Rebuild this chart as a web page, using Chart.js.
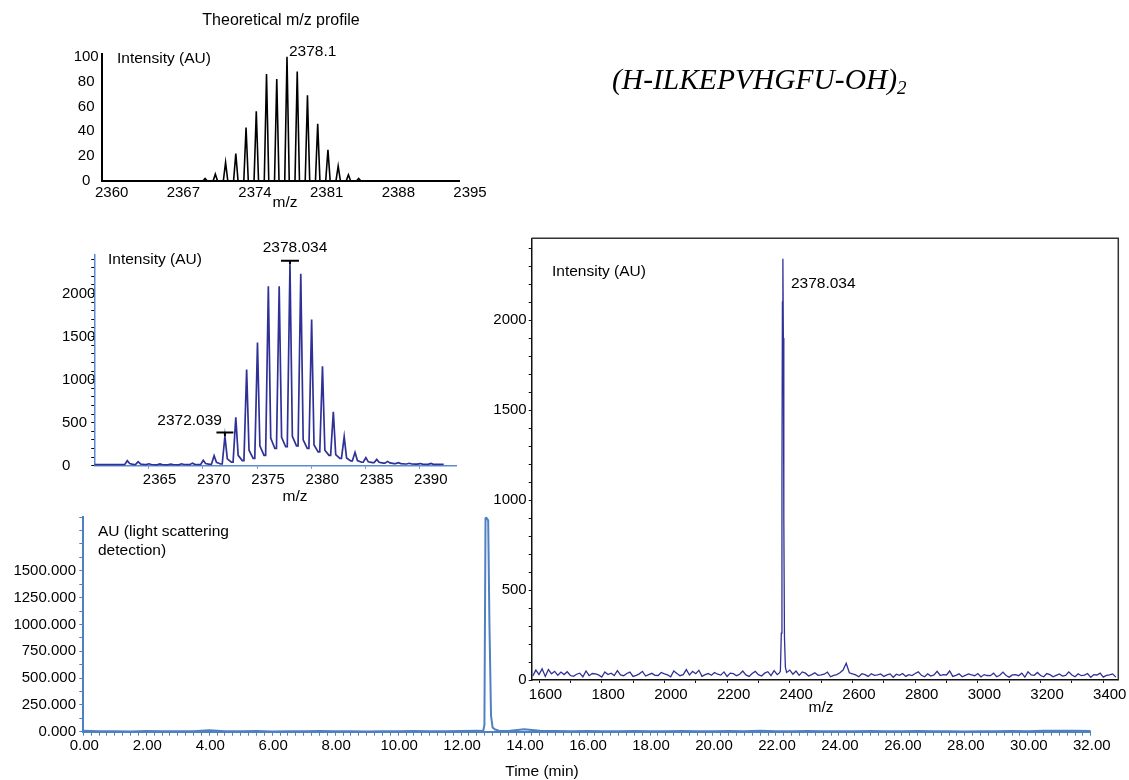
<!DOCTYPE html>
<html>
<head>
<meta charset="utf-8">
<title>(H-ILKEPVHGFU-OH)2 - m/z profiles and LC trace</title>
<script src="https://cdn.jsdelivr.net/npm/chart.js@4.4.1/dist/chart.umd.min.js"></script>
<style>
  html, body { margin: 0; padding: 0; background: #fff; }
  #wrap { position: relative; width: 1129px; height: 780px; overflow: hidden; }
  #wrap canvas { position: absolute; left: 0; top: 0; }
  #formula {
    position: absolute; left: 612px; top: 63px;
    font: italic 29.5px 'Liberation Serif', 'Times New Roman', serif;
    line-height: 32px; white-space: nowrap; color: #000;
  }
  #formula sub { font-size: 19px; vertical-align: -5px; line-height: 0; }
</style>
</head>
<body>
<div id="wrap">
  <canvas id="lcChart" width="1129" height="780"></canvas>
  <canvas id="fullMsChart" width="1129" height="780"></canvas>
  <canvas id="isoChart" width="1129" height="780"></canvas>
  <canvas id="theoChart" width="1129" height="780"></canvas>
  <div id="formula">(H-ILKEPVHGFU-OH)<sub>2</sub></div>
</div>
<script>
// ---- theoretical isotope profile (top left)
const theoMz = [2370.1, 2371.1, 2372.1, 2373.1, 2374.1, 2375.1, 2376.1, 2377.1,
  2378.1, 2379.1, 2380.1, 2381.1, 2382.1, 2383.1, 2384.1, 2385.1];
const theoIntensity = [2, 5.5, 15, 22, 43, 56, 86, 82, 100, 88, 69, 46, 25, 12, 5, 2];
const theoXTicks = [2360, 2367, 2374, 2381, 2388, 2395];

// ---- observed isotope cluster (middle left)
const isoMz = [2363.04, 2364.04, 2365.04, 2366.04, 2367.04, 2368.04, 2369.04, 2370.04,
  2371.04, 2372.039, 2373.04, 2374.04, 2375.04, 2376.04, 2377.04, 2378.034, 2379.03,
  2380.03, 2381.03, 2382.03, 2383.03, 2384.03, 2385.03, 2386.03, 2387.03, 2388.03,
  2389.03, 2390.03, 2391.03];
const isoApex = [58, 46, 22, 20, 18, 22, 30, 62, 116, 344, 561, 1118, 1431, 2084, 2084,
  2340, 2231, 1698, 1156, 626, 336, 155, 93, 73, 50, 35, 28, 25, 27];
const isoTail = [25, 20, 14, 12, 12, 14, 16, 25, 40, 80, 120, 180, 230, 320, 330, 340,
  300, 240, 180, 130, 90, 60, 45, 40, 32, 25, 20, 18, 16];
const isoValley = [12, 12, 10, 10, 10, 12, 12, 15, 20, 40, 60, 85, 120, 200, 220, 230,
  200, 160, 120, 85, 55, 40, 35, 30, 25, 20, 18, 16, 15];
const isoXTicks = [2365, 2370, 2375, 2380, 2385, 2390];
const isoYLabels = [0, 500, 1000, 1500, 2000];

// ---- full mass spectrum (right)
const fullMsStart = 1580, fullMsStep = 10;
const fullMsNoise = [
  22, 55, 30, 62, 20, 58, 34, 48, 26, 44,
  30, 46, 25, 20, 32, 38, 18, 50, 24, 36,
  34, 28, 16, 45, 30, 38, 25, 52, 28, 24,
  36, 44, 20, 26, 34, 48, 22, 30, 37, 26,
  25, 42, 34, 28, 18, 50, 36, 24, 30, 58,
  28, 48, 35, 54, 20, 30, 36, 26, 42, 32,
  27, 45, 20, 38, 35, 24, 32, 50, 28, 20,
  36, 48, 30, 22, 38, 46, 24, 52, 30, 45,
  60, 40, 55, 32, 50, 26, 45, 38, 22, 30,
  40, 26, 28, 32, 44, 18, 26, 30, 40, 55,
  93, 40, 34, 28, 18, 35, 30, 20, 35, 26,
  28, 34, 20, 28, 34, 15, 32, 26, 36, 20,
  30, 25, 36, 45, 26, 18, 34, 22, 28, 48,
  25, 30, 28, 50, 20, 26, 34, 18, 26, 34,
  28, 24, 36, 17, 30, 25, 24, 38, 18, 26,
  44, 25, 16, 28, 30, 24, 38, 16, 46, 28,
  26, 42, 25, 18, 36, 30, 18, 26, 34, 22,
  26, 45, 28, 18, 35, 24, 27, 36, 15, 30,
  28, 38, 16, 26, 28, 34, 16];
const fullMsPeakMz = [2366, 2370, 2373, 2375, 2376.5, 2378, 2379.5, 2381, 2383, 2386, 2390];
const fullMsPeakInt = [38, 48, 260, 1100, 2100, 2340, 1900, 900, 240, 70, 42];
const fullMsXLabels = [1600, 1800, 2000, 2200, 2400, 2600, 2800, 3000, 3200, 3400];
const fullMsYLabels = [0, 500, 1000, 1500, 2000];

// ---- light scattering chromatogram (bottom)
const lcStart = 0, lcStep = 0.5;
const lcBaseline = [8, 4, 5, 3, 6, 4, 5, 4, 14, 5, 4, 6, 3, 5, 4, 6, 5, 4, 3, 5,
  4, 6, 5, 4, 7, 10, 30, 6, 22, 9, 6, 5, 7, 4, 5, 6, 4, 5, 7, 5,
  4, 6, 5, 8, 5, 4, 6, 5, 4, 5, 7, 5, 4, 6, 5, 4, 3, 5, 4, 6,
  4, 8, 9, 8, 7];
const lcPeakTime = [12.70, 12.74, 12.775, 12.80, 12.86, 12.90, 12.95, 13.00, 13.08, 13.20];
const lcPeakAu = [6, 60, 1990, 1995, 1970, 1000, 150, 40, 20, 10];
const lcTimeLabels = [0, 2, 4, 6, 8, 10, 12, 14, 16, 18, 20, 22, 24, 26, 28, 30, 32];
const lcAuLabels = [0, 250, 500, 750, 1000, 1250, 1500];

const W = 1129, H = 780;
const SANS = "'Liberation Sans', Arial, Helvetica, sans-serif";
const MS_BLUE = '#2f3196';
const LC_BLUE = '#4f81c2';

Chart.defaults.font.family = SANS;
Chart.defaults.font.size = 15;
Chart.defaults.color = '#000';
Chart.defaults.animation = false;
Chart.defaults.events = [];
Chart.defaults.plugins.legend.display = false;
Chart.defaults.plugins.tooltip.enabled = false;

// stick spectrum -> thin triangles
function stickProfile(mz, ints, halfWidth) {
  const pts = [];
  mz.forEach((m, i) => {
    pts.push({ x: m - halfWidth, y: 0 }, { x: m, y: ints[i] }, { x: m + halfWidth, y: 0 });
  });
  return pts;
}

// measured peaks -> sharp rise, quick drop, slow tail to the valley
function measuredProfile(mz, apex, tail, valley, from, to, base) {
  const pts = [{ x: from, y: base }];
  let prev = base;
  mz.forEach((m, i) => {
    pts.push({ x: m - 0.25, y: prev }, { x: m, y: apex[i] },
      { x: m + 0.22, y: tail[i] }, { x: m + 0.6, y: valley[i] });
    prev = valley[i];
  });
  pts.push({ x: to, y: prev });
  return pts;
}

// regular scan plus a peak section, scan points inside the peak window dropped
function scanWithPeak(start, step, scan, peakX, peakY, lo, hi) {
  const pts = [];
  scan.forEach((v, i) => {
    const x = start + i * step;
    if (x <= lo || x >= hi) pts.push({ x, y: v });
  });
  peakX.forEach((x, i) => pts.push({ x, y: peakY[i] }));
  return pts.sort((a, b) => a.x - b.x);
}

// tick marks every `step`, only the listed values get a label
function tickMarks(lo, hi, step) {
  return scale => {
    const out = [];
    for (let k = Math.ceil(lo / step - 1e-9); k * step <= hi + 1e-9; k++) {
      out.push({ value: Math.round(k * step * 1000) / 1000 });
    }
    scale.ticks = out;
  };
}

function labelIf(list, fmt) {
  return v => list.some(l => Math.abs(l - v) < 1e-6) ? fmt(v) : '';
}

function fixBox(size) {
  return scale => {
    if (scale.isHorizontal()) scale.height = size; else scale.width = size;
    scale.paddingLeft = 0; scale.paddingRight = 0;
    scale.paddingTop = 0; scale.paddingBottom = 0;
  };
}

// chart area placed on the shared 1129x780 sheet
function place(area, yWidth, xHeight) {
  return {
    autoPadding: false,
    padding: { left: area.left - yWidth, top: area.top, right: W - area.right, bottom: H - area.bottom - xHeight }
  };
}

const notesPlugin = {
  id: 'notes',
  afterDraw(chart, args, opts) {
    const ctx = chart.ctx;
    const xs = chart.scales.x, ys = chart.scales.y;
    const a = chart.chartArea;
    ctx.save();
    if (opts.frame) {
      ctx.strokeStyle = opts.frame;
      ctx.lineWidth = 1.5;
      ctx.beginPath();
      ctx.moveTo(a.left, a.top); ctx.lineTo(a.right, a.top); ctx.lineTo(a.right, a.bottom);
      ctx.stroke();
    }
    (opts.bars || []).forEach(b => {
      const px = xs.getPixelForValue(b.xv);
      const py = ys.getPixelForValue(b.yv) - b.gap;
      ctx.strokeStyle = '#000';
      ctx.lineWidth = 2;
      ctx.beginPath();
      ctx.moveTo(px - b.half, py); ctx.lineTo(px + b.half, py);
      ctx.moveTo(px, py); ctx.lineTo(px, py + b.gap);
      ctx.stroke();
    });
    (opts.items || []).forEach(n => {
      const x = n.xv !== undefined ? xs.getPixelForValue(n.xv) + (n.dx || 0) : n.x;
      const y = n.yv !== undefined ? ys.getPixelForValue(n.yv) + (n.dy || 0) : n.y;
      ctx.font = (n.size || 15.5) + 'px ' + SANS;
      ctx.fillStyle = '#000';
      ctx.textAlign = n.align || 'left';
      ctx.textBaseline = 'middle';
      ctx.fillText(n.text, x, y);
    });
    ctx.restore();
  }
};

function lineSet(data, color, width) {
  return { data, borderColor: color, borderWidth: width, pointRadius: 0, tension: 0, fill: false };
}

// ---------- bottom: LC trace
const lcArea = { left: 83.3, top: 516.7, right: 1090.8, bottom: 731.7 };
new Chart(document.getElementById('lcChart'), {
  type: 'line',
  data: { datasets: [lineSet(scanWithPeak(lcStart, lcStep, lcBaseline, lcPeakTime, lcPeakAu, 12.6, 13.25), LC_BLUE, 2)] },
  options: {
    responsive: false,
    layout: place(lcArea, 83.3, 30),
    scales: {
      x: {
        type: 'linear', min: 0, max: 32,
        afterFit: fixBox(30),
        afterBuildTicks: tickMarks(0, 32, 0.25),
        border: { color: LC_BLUE, width: 2 },
        grid: { drawOnChartArea: false, tickLength: 4, color: LC_BLUE },
        ticks: { autoSkip: false, minRotation: 0, maxRotation: 0,
          padding: 1, labelOffset: 1, callback: labelIf(lcTimeLabels, v => v.toFixed(2)) }
      },
      y: {
        type: 'linear', min: 0, max: 2004,
        afterFit: fixBox(83.3),
        afterBuildTicks: tickMarks(0, 2004, 125),
        border: { color: LC_BLUE, width: 2 },
        grid: { drawOnChartArea: false, tickLength: 4, color: LC_BLUE },
        ticks: { autoSkip: false, padding: 3.3,
          callback: labelIf(lcAuLabels, v => v.toFixed(3)) }
      }
    },
    plugins: {
      notes: { items: [
        { text: 'AU (light scattering', x: 98, y: 532 },
        { text: 'detection)', x: 98, y: 551 },
        { text: 'Time (min)', x: 542, y: 772, align: 'center' }
      ] }
    }
  },
  plugins: [notesPlugin]
});

// ---------- right: full spectrum
const fullArea = { left: 531.7, top: 238.3, right: 1118.3, bottom: 680 };
new Chart(document.getElementById('fullMsChart'), {
  type: 'line',
  data: { datasets: [lineSet(scanWithPeak(fullMsStart, fullMsStep, fullMsNoise, fullMsPeakMz, fullMsPeakInt, 2365, 2391), MS_BLUE, 1.3)] },
  options: {
    responsive: false,
    layout: place(fullArea, 60, 30),
    scales: {
      x: {
        type: 'linear', min: 1576.7, max: 3448,
        afterFit: fixBox(30),
        afterBuildTicks: tickMarks(1576.7, 3448, 100),
        border: { color: '#111', width: 1.5 },
        grid: { drawOnChartArea: false, tickLength: 3, color: '#111' },
        ticks: { autoSkip: false, minRotation: 0, maxRotation: 0,
          padding: 3, labelOffset: 6.5, callback: labelIf(fullMsXLabels, v => String(v)) }
      },
      y: {
        type: 'linear', min: 0, max: 2454,
        afterFit: fixBox(60),
        afterBuildTicks: tickMarks(0, 2454, 100),
        border: { color: '#111', width: 1.5 },
        grid: { drawOnChartArea: false, tickLength: 3, color: '#111' },
        ticks: { autoSkip: false, padding: 2,
          callback: labelIf(fullMsYLabels, v => String(v)) }
      }
    },
    plugins: {
      notes: {
        frame: '#333',
        items: [
          { text: 'Intensity (AU)', x: 552, y: 272 },
          { text: '2378.034', xv: 2378.034, yv: 2340, dx: 8, dy: 24.5 },
          { text: 'm/z', x: 821, y: 708, align: 'center' }
        ]
      }
    }
  },
  plugins: [notesPlugin]
});

// ---------- middle left: observed isotope cluster
const isoArea = { left: 94.3, top: 254.3, right: 456.7, bottom: 465.7 };
new Chart(document.getElementById('isoChart'), {
  type: 'line',
  data: { datasets: [lineSet(measuredProfile(isoMz, isoApex, isoTail, isoValley, 2360, 2392.2, 12), MS_BLUE, 1.7)] },
  options: {
    responsive: false,
    layout: place(isoArea, 32.3, 30),
    scales: {
      x: {
        type: 'linear', min: 2360, max: 2393.4,
        afterFit: fixBox(30),
        afterBuildTicks: s => { s.ticks = isoXTicks.map(v => ({ value: v })); },
        border: { color: '#5b8ad0', width: 1.5 },
        grid: { drawOnChartArea: false, tickLength: 3, color: '#5b8ad0' },
        ticks: { autoSkip: false, minRotation: 0, maxRotation: 0, padding: 2, labelOffset: 11,
          callback: v => String(v) }
      },
      y: {
        type: 'linear', min: 0, max: 2456,
        afterFit: fixBox(32.3),
        afterBuildTicks: tickMarks(0, 2456, 100),
        border: { color: '#5b8ad0', width: 1.5 },
        grid: { drawOnChartArea: false, tickLength: 3, color: '#000' },
        ticks: { autoSkip: false, padding: 2, crossAlign: 'far',
          callback: labelIf(isoYLabels, v => String(v)) }
      }
    },
    plugins: {
      notes: {
        bars: [
          { xv: 2378.034, yv: 2340, half: 9, gap: 3.5 },
          { xv: 2372.039, yv: 344, half: 8.5, gap: 3.5 }
        ],
        items: [
          { text: 'Intensity (AU)', x: 108, y: 260 },
          { text: '2378.034', xv: 2378.034, yv: 2340, dx: 5, dy: -17, align: 'center' },
          { text: '2372.039', xv: 2372.039, yv: 344, dx: -3, dy: -15, align: 'right' },
          { text: 'm/z', x: 295, y: 497, align: 'center' }
        ]
      }
    }
  },
  plugins: [notesPlugin]
});

// ---------- top left: theoretical profile
const theoArea = { left: 101.7, top: 53.6, right: 460, bottom: 181 };
new Chart(document.getElementById('theoChart'), {
  type: 'line',
  data: { datasets: [lineSet(stickProfile(theoMz, theoIntensity, 0.22), '#000', 1.6)] },
  options: {
    responsive: false,
    layout: place(theoArea, 50, 30),
    scales: {
      x: {
        type: 'linear', min: 2360, max: 2395,
        afterFit: fixBox(30),
        afterBuildTicks: s => { s.ticks = theoXTicks.map(v => ({ value: v })); },
        border: { color: '#000', width: 2 },
        grid: { drawOnChartArea: false, drawTicks: false },
        ticks: { autoSkip: false, minRotation: 0, maxRotation: 0, padding: 3, labelOffset: 10,
          callback: v => String(v) }
      },
      y: {
        type: 'linear', min: 0, max: 102.5,
        afterFit: fixBox(50),
        border: { color: '#000', width: 2 },
        grid: { drawOnChartArea: false, drawTicks: false },
        ticks: { stepSize: 20, includeBounds: false, padding: 3, crossAlign: 'center' }
      }
    },
    plugins: {
      notes: { items: [
        { text: 'Theoretical m/z profile', x: 281, y: 21, align: 'center', size: 16 },
        { text: 'Intensity (AU)', x: 117, y: 59 },
        { text: '2378.1', xv: 2378.1, yv: 100, dx: 2, dy: -5 },
        { text: 'm/z', x: 285, y: 203, align: 'center' }
      ] }
    }
  },
  plugins: [notesPlugin]
});
</script>
</body>
</html>
